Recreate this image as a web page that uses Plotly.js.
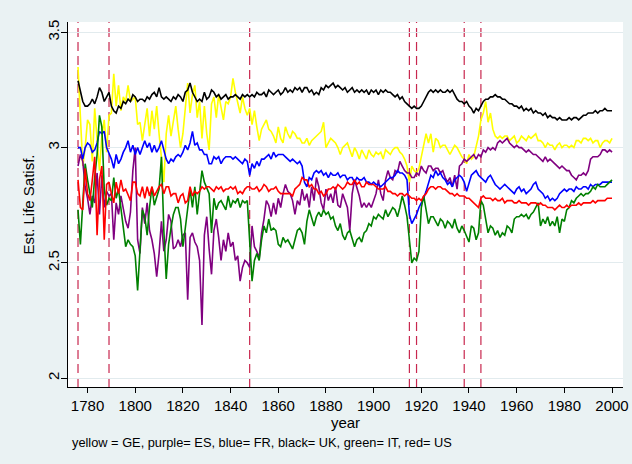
<!DOCTYPE html>
<html>
<head>
<meta charset="utf-8">
<script src="https://cdn.plot.ly/plotly-3.0.1.min.js"></script>
<style>
  html, body { margin: 0; padding: 0; background: #EAF2F3; }
  #chart { width: 632px; height: 464px; }
</style>
</head>
<body>
<div id="chart"></div>
<script>
// ---- Data (annual, 1776-2000) ----
const firstYear = 1776;
const lastYear = 2000;

// Event years marked with dashed vertical lines
const eventYears = [1776, 1789, 1848, 1915, 1918, 1938, 1945];

const xTickVals = [1780, 1800, 1820, 1840, 1860, 1880, 1900, 1920, 1940, 1960, 1980, 2000];
const yTickVals = [2, 2.5, 3, 3.5];
const yTickText = ["2", "2.5", "3", "3.5"];

// GE (yellow)
const ge = [
  3.35, 3.10, 2.92, 3.00,
  3.12, 3.10, 2.94, 3.17, 3.02, 2.90, 3.05, 3.12, 2.98, 3.14,
  3.15, 3.32, 3.18, 3.27, 3.16, 3.22, 3.20, 3.27, 3.20, 3.21,
  3.22, 3.10, 3.11, 3.03, 3.10, 3.17, 3.05, 3.16, 3.08, 3.18,
  3.06, 2.94, 2.85, 3.06, 3.14, 3.05, 3.12, 3.18, 3.08, 3.00,
  3.06, 3.19, 3.28, 3.15, 3.23, 3.27, 3.13, 3.20, 3.04, 3.18,
  3.06, 2.99, 3.19, 3.22, 3.13, 3.23, 3.18, 3.12, 3.20, 3.19,
  3.22, 3.30, 3.24, 3.20, 3.15, 3.22, 3.17, 3.14, 3.17, 3.10,
  3.16, 3.09, 3.03, 3.08, 3.10, 3.12, 3.08, 3.07, 3.05, 3.02,
  3.09, 3.04, 3.02, 3.09, 3.06, 3.04, 3.07, 3.06, 3.04, 3.04,
  3.02, 3.02, 3.04, 3.01, 3.03, 3.04, 3.05, 3.06, 3.07, 3.11,
  3.00, 3.02, 3.04, 3.03, 3.02, 3.00, 2.97, 3.00, 3.01, 3.02,
  2.99, 2.96, 3.00, 2.98, 2.95, 2.99, 2.97, 2.95, 2.99, 2.97,
  2.96, 2.98, 2.97, 2.98, 2.95, 2.99, 2.98, 2.97, 2.99, 3.00,
  3.00, 2.98, 2.97, 2.95, 2.92, 2.85, 2.92, 2.90, 2.89, 2.91,
  2.96, 3.01, 3.06, 3.02, 3.06, 2.98, 3.04, 3.03, 3.00, 3.01,
  3.01, 2.99, 2.97, 2.99, 3.01, 3.00, 2.98, 2.96, 2.95, 2.93,
  2.97, 2.95, 2.96, 3.00, 3.05, 3.12, 3.15, 3.20, 3.11, 3.15,
  3.08, 3.05, 3.04, 3.05, 3.04, 3.05, 3.05, 3.03, 3.04, 3.05,
  3.02, 3.03, 3.05, 3.04, 3.03, 3.05, 3.04, 3.05, 3.06, 3.03,
  3.03, 3.02, 3.00, 3.02, 3.01, 3.01, 2.99, 3.01, 3.02, 3.00,
  3.01, 3.01, 3.00, 3.01, 3.00, 3.03, 3.03, 3.02, 3.04, 3.04,
  3.03, 3.04, 3.02, 3.03, 3.03, 3.00, 3.02, 3.03, 3.03, 3.02,
  3.04
];

// ES (purple)
const es = [
  2.92, 2.97, 2.94, 2.83,
  2.78, 2.71, 2.79, 2.76, 2.89, 2.71, 2.88, 2.74, 2.81, 2.79,
  2.80, 2.60, 2.76, 2.71, 2.79, 2.74, 2.68, 2.65, 2.72, 2.90,
  3.00, 2.60, 2.54, 2.74, 2.67, 2.76, 2.64, 2.60, 2.54, 2.44,
  2.54, 2.68, 2.55, 2.60, 2.71, 2.68, 2.56, 2.57, 2.60, 2.57,
  2.62, 2.63, 2.34, 2.61, 2.63, 2.59, 2.57, 2.51, 2.23, 2.62,
  2.70, 2.56, 2.45, 2.64, 2.69, 2.61, 2.51, 2.60, 2.55, 2.63,
  2.57, 2.59, 2.51, 2.53, 2.42, 2.48, 2.51, 2.50, 2.48, 2.66,
  2.57, 2.55, 2.52, 2.63, 2.69, 2.77, 2.75, 2.70, 2.76, 2.71,
  2.78, 2.74, 2.80, 2.84, 2.81, 2.80, 2.77, 2.71, 2.77, 2.75,
  2.82, 2.77, 2.80, 2.74, 2.83, 2.77, 2.87, 2.83, 2.76, 2.73,
  2.82, 2.77, 2.80, 2.76, 2.83, 2.75, 2.74, 2.80, 2.77, 2.74,
  2.64, 2.80, 2.86, 2.83, 2.79, 2.74, 2.76, 2.74, 2.76, 2.74,
  2.77, 2.80, 2.86, 2.80, 2.77, 2.86, 2.90, 2.87, 2.86, 2.90,
  2.89, 2.94, 2.92, 2.90, 2.89, 2.89, 2.87, 2.87, 2.89, 2.88,
  2.92, 2.90, 2.89, 2.92, 2.92, 2.90, 2.91, 2.91, 2.89, 2.90,
  2.87, 2.85, 2.87, 2.83, 2.88, 2.82, 2.92, 2.93, 2.95, 2.94,
  2.95, 2.96, 2.97, 2.95, 2.97, 2.96, 2.99, 2.98, 3.00, 2.99,
  3.00, 2.99, 3.02, 3.03, 3.02, 3.03, 3.04, 3.02, 3.01, 3.00,
  3.01, 3.00, 3.00, 2.99, 2.98, 2.99, 2.98, 2.97, 2.97, 2.96,
  2.95, 2.94, 2.96, 2.94, 2.95, 2.94, 2.93, 2.92, 2.91, 2.92,
  2.91, 2.90, 2.90, 2.88, 2.87, 2.86, 2.88, 2.88, 2.89, 2.88,
  2.90, 2.95, 2.96, 2.96, 2.96, 2.97, 2.99, 2.99, 2.98, 2.99,
  2.98
];

// FR (blue)
const fr = [
  3.00, 3.00, 2.95, 3.00,
  3.02, 3.01, 2.98, 2.99, 3.02, 3.07, 3.06, 3.07, 3.00, 2.97,
  2.95, 2.91, 2.97, 2.93, 2.95, 2.98, 3.00, 3.03, 2.98, 3.01,
  2.97, 3.00, 2.97, 3.00, 3.03, 3.00, 3.02, 2.98, 3.01, 2.98,
  3.00, 3.03, 2.99, 2.95, 2.93, 2.95, 2.94, 2.96, 2.97, 2.96,
  2.98, 3.01, 2.99, 3.02, 3.07, 3.01, 3.02, 2.99, 2.99, 2.97,
  2.97, 2.93, 2.93, 2.96, 2.95, 2.96, 2.93, 2.95, 2.96, 2.96,
  2.96, 2.95, 2.96, 2.95, 2.94, 2.93, 2.95, 2.94, 2.88, 2.93,
  2.91, 2.94, 2.92, 2.95, 2.95, 2.96, 2.97, 2.95, 2.98, 2.96,
  2.97, 2.97, 2.97, 2.96, 2.95, 2.94, 2.95, 2.94, 2.93, 2.94,
  2.92, 2.85, 2.83, 2.87, 2.86, 2.89, 2.90, 2.89, 2.90, 2.88,
  2.89, 2.87, 2.89, 2.88, 2.88, 2.89, 2.87, 2.88, 2.88, 2.86,
  2.87, 2.87, 2.85, 2.87, 2.86, 2.86, 2.87, 2.85, 2.85, 2.84,
  2.85, 2.84, 2.84, 2.83, 2.84, 2.85, 2.86, 2.87, 2.87, 2.88,
  2.90, 2.89, 2.89, 2.88, 2.86, 2.71, 2.67, 2.69, 2.71, 2.74,
  2.76, 2.78, 2.81, 2.85, 2.88, 2.87, 2.90, 2.88, 2.89, 2.87,
  2.86, 2.84, 2.85, 2.83, 2.86, 2.87, 2.88, 2.87, 2.85, 2.81,
  2.84, 2.88, 2.89, 2.90, 2.88, 2.87, 2.86, 2.85, 2.87, 2.88,
  2.86, 2.84, 2.83, 2.82, 2.83, 2.84, 2.83, 2.82, 2.81, 2.80,
  2.82, 2.83, 2.81, 2.82, 2.80, 2.81, 2.82, 2.84, 2.85, 2.82,
  2.81, 2.80, 2.78, 2.79, 2.77, 2.78, 2.77, 2.78, 2.80, 2.81,
  2.82, 2.81, 2.82, 2.82, 2.81, 2.83, 2.82, 2.82, 2.83, 2.83,
  2.82, 2.84, 2.83, 2.84, 2.84, 2.84, 2.85, 2.85, 2.85, 2.85,
  2.85
];

// UK (black)
const uk = [
  3.29, 3.25, 3.20, 3.18,
  3.18, 3.19, 3.21, 3.19, 3.22, 3.26, 3.24, 3.20, 3.22, 3.24,
  3.18, 3.16, 3.15, 3.18, 3.17, 3.20, 3.19, 3.21, 3.20, 3.23,
  3.22, 3.20, 3.21, 3.21, 3.20, 3.22, 3.21, 3.23, 3.24, 3.22,
  3.26, 3.22, 3.21, 3.22, 3.21, 3.20, 3.22, 3.21, 3.23, 3.22,
  3.20, 3.24, 3.25, 3.28, 3.24, 3.22, 3.20, 3.21, 3.20, 3.24,
  3.21, 3.22, 3.25, 3.24, 3.22, 3.23, 3.21, 3.22, 3.23, 3.21,
  3.22, 3.22, 3.23, 3.22, 3.21, 3.23, 3.22, 3.23, 3.22, 3.23,
  3.22, 3.24, 3.23, 3.23, 3.24, 3.22, 3.25, 3.24, 3.23, 3.24,
  3.25, 3.23, 3.24, 3.26, 3.24, 3.25, 3.24, 3.26, 3.25, 3.26,
  3.24, 3.26, 3.26, 3.24, 3.25, 3.23, 3.24, 3.23, 3.26, 3.25,
  3.27, 3.26, 3.27, 3.28, 3.26, 3.27, 3.26, 3.25, 3.26, 3.24,
  3.25, 3.26, 3.24, 3.25, 3.24, 3.25, 3.24, 3.25, 3.23, 3.25,
  3.24, 3.25, 3.23, 3.25, 3.24, 3.25, 3.24, 3.24, 3.23, 3.22,
  3.23, 3.21, 3.22, 3.20, 3.19, 3.18, 3.17, 3.18, 3.17, 3.17,
  3.18, 3.20, 3.22, 3.24, 3.25, 3.24, 3.25, 3.24, 3.25, 3.24,
  3.24, 3.25, 3.24, 3.25, 3.23, 3.21, 3.20, 3.20, 3.19, 3.20,
  3.18, 3.17, 3.15, 3.17, 3.16, 3.18, 3.20, 3.21, 3.21, 3.22,
  3.22, 3.23, 3.22, 3.22, 3.21, 3.21, 3.20, 3.19, 3.19, 3.18,
  3.18, 3.17, 3.18, 3.16, 3.17, 3.16, 3.17, 3.15, 3.16, 3.15,
  3.15, 3.14, 3.15, 3.13, 3.14, 3.13, 3.13, 3.12, 3.13, 3.12,
  3.12, 3.12, 3.13, 3.12, 3.13, 3.13, 3.12, 3.13, 3.14, 3.14,
  3.15, 3.15, 3.15, 3.16, 3.15, 3.16, 3.16, 3.17, 3.16, 3.16,
  3.16
];

// IT (green)
const it = [
  2.73, 2.58, 2.76, 2.93,
  2.86, 2.80, 2.74, 2.87, 2.97, 3.14, 3.09, 2.82, 2.75, 2.78,
  2.77, 2.87, 2.78, 2.82, 2.74, 2.64, 2.57, 2.60, 2.58, 2.57,
  2.53, 2.38, 2.56, 2.73, 2.70, 2.62, 2.74, 2.83, 2.75, 2.79,
  2.82, 2.96, 2.64, 2.43, 2.58, 2.65, 2.71, 2.74, 2.74, 2.69,
  2.57, 2.65, 2.75, 2.82, 2.74, 2.83, 2.71, 2.80, 2.90, 2.85,
  2.82, 2.80, 2.63, 2.78, 2.73, 2.76, 2.77, 2.75, 2.73, 2.79,
  2.74, 2.77, 2.76, 2.78, 2.74, 2.77, 2.76, 2.77, 2.59, 2.42,
  2.51, 2.54, 2.51, 2.60, 2.66, 2.63, 2.69, 2.64, 2.65, 2.64,
  2.58, 2.57, 2.61, 2.59, 2.60, 2.58, 2.56, 2.60, 2.64, 2.65,
  2.63, 2.58, 2.68, 2.73, 2.69, 2.66, 2.70, 2.72, 2.70, 2.73,
  2.71, 2.72, 2.69, 2.70, 2.66, 2.64, 2.67, 2.62, 2.60, 2.63,
  2.64, 2.60, 2.57, 2.60, 2.61, 2.59, 2.63, 2.64, 2.67, 2.66,
  2.70, 2.69, 2.71, 2.70, 2.69, 2.73, 2.70, 2.72, 2.74, 2.73,
  2.70, 2.74, 2.79, 2.75, 2.70, 2.60, 2.50, 2.52, 2.51, 2.55,
  2.74, 2.79, 2.73, 2.67, 2.70, 2.70, 2.68, 2.66, 2.69, 2.68,
  2.65, 2.68, 2.67, 2.65, 2.69, 2.65, 2.63, 2.66, 2.64, 2.61,
  2.59, 2.66, 2.65, 2.60, 2.63, 2.77, 2.75, 2.69, 2.63, 2.66,
  2.65, 2.62, 2.64, 2.61, 2.63, 2.62, 2.66, 2.65, 2.63, 2.69,
  2.70, 2.70, 2.71, 2.70, 2.71, 2.69, 2.71, 2.72, 2.74, 2.76,
  2.66, 2.69, 2.67, 2.70, 2.66, 2.68, 2.66, 2.70, 2.63, 2.69,
  2.68, 2.73, 2.74, 2.77, 2.76, 2.78, 2.79, 2.80, 2.79, 2.80,
  2.80, 2.81, 2.83, 2.82, 2.84, 2.83, 2.83, 2.83, 2.84, 2.85,
  2.86
];

// US (red)
const us = [
  2.86, 2.74, 2.73, 2.91,
  2.80, 2.77, 2.86, 2.96, 2.62, 2.86, 2.92, 2.60, 2.84, 2.85,
  2.80, 2.76, 2.85, 2.80, 2.86, 2.81, 2.82, 2.79, 2.77, 2.85,
  2.85, 2.80, 2.79, 2.83, 2.78, 2.83, 2.79, 2.83, 2.79, 2.81,
  2.83, 2.84, 2.80, 2.83, 2.83, 2.79, 2.80, 2.80, 2.76, 2.79,
  2.80, 2.76, 2.77, 2.83, 2.79, 2.81, 2.80, 2.81, 2.83, 2.82,
  2.83, 2.83, 2.82, 2.81, 2.83, 2.82, 2.83, 2.81, 2.82, 2.82,
  2.83, 2.82, 2.83, 2.80, 2.81, 2.80, 2.82, 2.83, 2.83, 2.82,
  2.82, 2.83, 2.81, 2.82, 2.84, 2.83, 2.81, 2.82, 2.82, 2.83,
  2.81, 2.80, 2.80, 2.80, 2.80, 2.80, 2.79, 2.82, 2.83, 2.84,
  2.87, 2.86, 2.86, 2.83, 2.84, 2.82, 2.82, 2.80, 2.81, 2.79,
  2.80, 2.82, 2.82, 2.83, 2.82, 2.84, 2.83, 2.82, 2.83, 2.85,
  2.84, 2.84, 2.86, 2.84, 2.85, 2.83, 2.83, 2.85, 2.84, 2.84,
  2.84, 2.83, 2.82, 2.82, 2.82, 2.83, 2.81, 2.81, 2.80, 2.80,
  2.79, 2.80, 2.80, 2.79, 2.80, 2.79, 2.78, 2.78, 2.77, 2.78,
  2.77, 2.79, 2.80, 2.82, 2.83, 2.83, 2.82, 2.83, 2.83, 2.82,
  2.82, 2.81, 2.80, 2.80, 2.79, 2.80, 2.79, 2.79, 2.79, 2.78,
  2.78, 2.77, 2.76, 2.75, 2.74, 2.78, 2.79, 2.78, 2.78, 2.78,
  2.77, 2.78, 2.77, 2.77, 2.78, 2.76, 2.77, 2.77, 2.77, 2.76,
  2.76, 2.77, 2.76, 2.76, 2.76, 2.75, 2.76, 2.76, 2.76, 2.75,
  2.76, 2.75, 2.75, 2.74, 2.74, 2.74, 2.73, 2.74, 2.75, 2.74,
  2.74, 2.75, 2.74, 2.75, 2.75, 2.75, 2.76, 2.75, 2.76, 2.76,
  2.76, 2.76, 2.77, 2.76, 2.77, 2.77, 2.77, 2.77, 2.78, 2.78,
  2.78
];

// ---- Build chart ----
const years = [];
for (let y = firstYear; y <= lastYear; y++) years.push(y);

const seriesDefs = [
  { name: "GE", y: ge, color: "#FFFF00" },
  { name: "ES", y: es, color: "#800080" },
  { name: "FR", y: fr, color: "#0000FF" },
  { name: "UK", y: uk, color: "#000000" },
  { name: "IT", y: it, color: "#008000" },
  { name: "US", y: us, color: "#FF0000" }
];
seriesDefs.forEach(s => {
  if (s.y.length !== years.length) throw new Error(s.name + " has " + s.y.length + " values, expected " + years.length);
});

const traces = seriesDefs.map(s => ({
  type: "scatter",
  mode: "lines",
  name: s.name,
  x: years,
  y: s.y,
  line: { color: s.color, width: 1.6 },
  hoverinfo: "skip"
}));

const shapes = eventYears.map(yr => ({
  type: "line",
  xref: "x", yref: "paper",
  x0: yr, x1: yr, y0: 0, y1: 1,
  line: { color: "#C8284F", width: 1.2, dash: "9px,5px" },
  layer: "below"
}));

const font = "Liberation Sans, Arial, Helvetica, sans-serif";

const layout = {
  width: 632,
  height: 464,
  margin: { l: 68, r: 9, t: 22, b: 77, pad: 0 },
  paper_bgcolor: "#EAF2F3",
  plot_bgcolor: "#FFFFFF",
  showlegend: false,
  font: { family: font, color: "#000000", size: 15 },
  xaxis: {
    range: [1771.8, 2004.6],
    tickmode: "array",
    tickvals: xTickVals,
    ticks: "outside",
    ticklen: 5,
    tickwidth: 1,
    tickcolor: "#000000",
    showline: true,
    linecolor: "#000000",
    linewidth: 1,
    showgrid: false,
    zeroline: false,
    tickfont: { family: font, size: 15, color: "#000000" },
    title: { text: "year", font: { family: font, size: 15, color: "#000000" }, standoff: 2 }
  },
  yaxis: {
    range: [1.961, 3.545],
    tickmode: "array",
    tickvals: yTickVals,
    ticktext: yTickText,
    tickangle: -90,
    ticks: "outside",
    ticklen: 6,
    tickwidth: 1,
    tickcolor: "#000000",
    ticklabelstandoff: -4,
    showline: true,
    linecolor: "#000000",
    linewidth: 1,
    showgrid: true,
    gridcolor: "#E2EBEE",
    gridwidth: 1,
    zeroline: false,
    tickfont: { family: font, size: 15, color: "#000000" },
    title: { text: "Est. Life Satisf.", font: { family: font, size: 15, color: "#000000" }, standoff: 6 }
  },
  shapes: shapes,
  annotations: [{
    xref: "paper", yref: "paper",
    x: 0.004, y: -0.151,
    xanchor: "left", yanchor: "middle",
    showarrow: false,
    text: "yellow = GE, purple= ES, blue= FR, black= UK, green= IT, red= US",
    font: { family: font, size: 12.8, color: "#000000" }
  }]
};

Plotly.newPlot("chart", traces, layout, { displayModeBar: false, staticPlot: true });
</script>
</body>
</html>
